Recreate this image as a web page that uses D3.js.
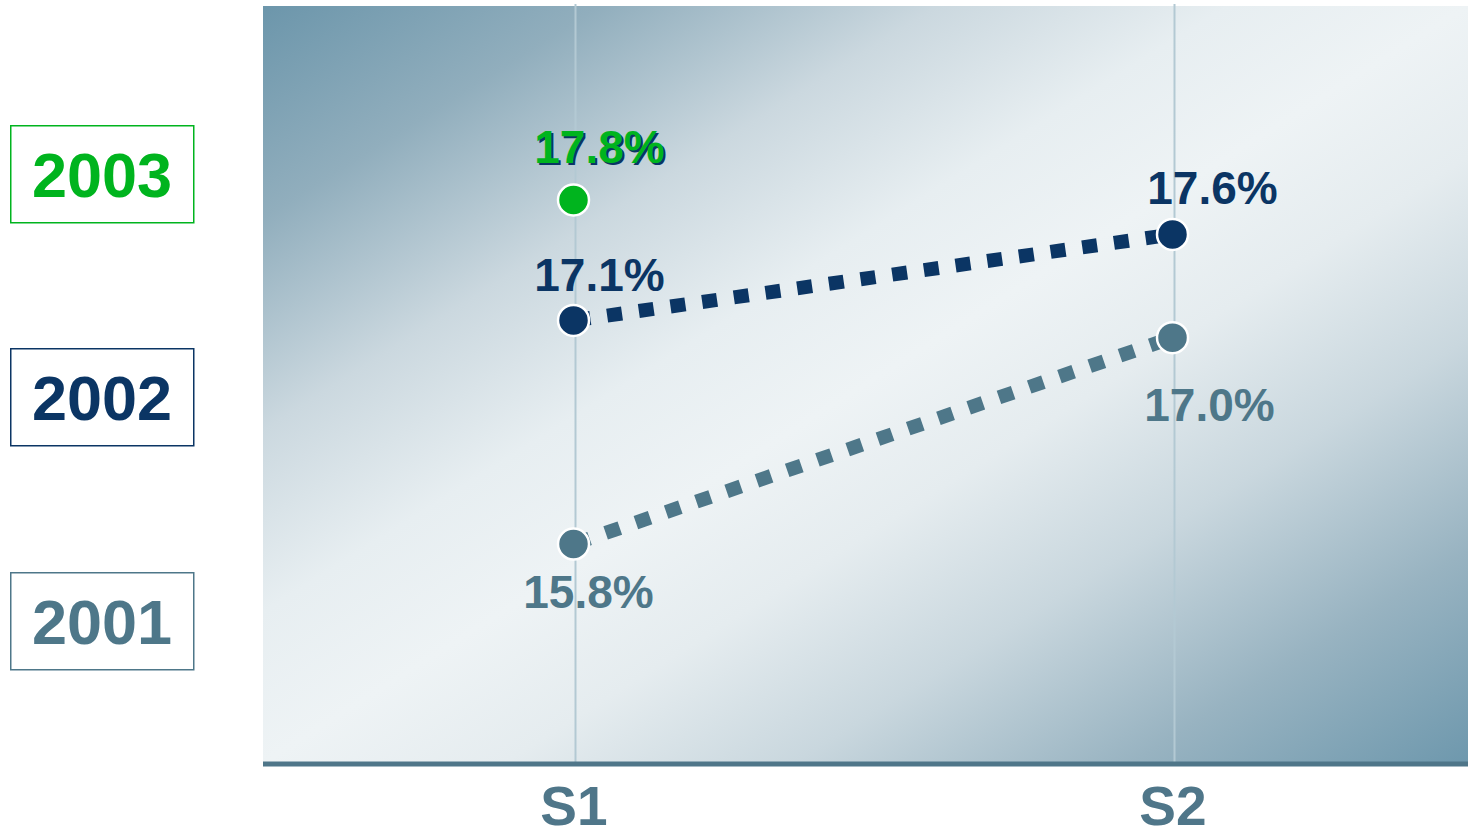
<!DOCTYPE html>
<html>
<head>
<meta charset="utf-8">
<script src="https://cdn.jsdelivr.net/npm/d3@7"></script>
<style>
  body { margin: 0; background: #fff; }
  svg { display: block; font-family: "Liberation Sans", Arial, sans-serif; font-weight: bold; }
</style>
</head>
<body>
<svg id="chart" width="1468" height="837"></svg>
<script>
// data
const semesters = ['S1', 'S2'];
const years = ['2001', '2002', '2003'];
const v2001 = [15.8, 17.0];
const v2002 = [17.1, 17.6];
const v2003 = [17.8, null];
const colors = {'2001': '#4e7789', '2002': '#0b3564', '2003': '#00b41e'};

const W = 1468, H = 837;
const plot = {left: 263, right: 1468, top: 6, bottom: 763};

const svg = d3.select('#chart');

const x = d3.scalePoint().domain(semesters).range([274, 1472]).padding(0.5);
const y = d3.scaleLinear().domain([14.527, 18.928]).range([plot.bottom, plot.top]);

// background gradient
const defs = svg.append('defs');
const grad = defs.append('linearGradient').attr('id', 'bg')
    .attr('x1', 0).attr('y1', 0).attr('x2', 1).attr('y2', 1);
[[0, '#6c96ab'], [0.14, '#91aebd'], [0.28, '#cbd8df'], [0.4, '#e7eef1'], [0.5, '#eef3f5'],
 [0.6, '#e5ecef'], [0.72, '#c9d7de'], [0.86, '#98b3c1'], [1, '#6e98ad']].forEach(s => {
    grad.append('stop').attr('offset', s[0]).attr('stop-color', s[1]);
});

svg.append('rect')
    .attr('x', plot.left).attr('y', plot.top)
    .attr('width', plot.right - plot.left).attr('height', plot.bottom - plot.top)
    .attr('fill', 'url(#bg)');

// vertical grid lines
svg.append('g').selectAll('line').data(semesters).join('line')
    .attr('x1', d => x(d) + 2).attr('x2', d => x(d) + 2)
    .attr('y1', 4).attr('y2', plot.bottom)
    .attr('stroke', '#b3c9d3').attr('stroke-width', 2);

// x axis
const xAxis = svg.append('g')
    .attr('transform', `translate(0,${plot.bottom + 1})`)
    .call(d3.axisBottom(x).tickSize(0).tickPadding(22));
xAxis.select('.domain').remove();
xAxis.append('line')
    .attr('x1', plot.left).attr('x2', plot.right)
    .attr('stroke', '#4f7689').attr('stroke-width', 5);
xAxis.selectAll('text')
    .attr('font-size', 55).attr('font-weight', 'bold')
    .attr('font-family', '"Liberation Sans", Arial, sans-serif')
    .attr('fill', '#4f7689')
    .attr('dy', '0.71em');

// series
const series = [
    {year: '2001', values: v2001, labelDx: [15, 37], labelDy: [64, 83]},
    {year: '2002', values: v2002, labelDx: [26, 40], labelDy: [-29, -30]},
    {year: '2003', values: v2003, labelDx: [26, 0], labelDy: [-37, 0]}
];

const line = d3.line()
    .defined(d => d.v != null)
    .x(d => x(d.s))
    .y(d => y(d.v));

series.forEach(sr => {
    const pts = semesters.map((s, i) => ({s: s, v: sr.values[i], i: i}))
        .filter(d => d.v != null);
    const g = svg.append('g');
    if (pts.length > 1) {
        g.append('path').datum(pts)
            .attr('d', line)
            .attr('fill', 'none')
            .attr('stroke', colors[sr.year])
            .attr('stroke-width', 14)
            .attr('stroke-dasharray', '15,17')
            .attr('stroke-dashoffset', -2);
    }
    g.selectAll('circle').data(pts).join('circle')
        .attr('cx', d => x(d.s)).attr('cy', d => y(d.v))
        .attr('r', 15.5)
        .attr('fill', colors[sr.year])
        .attr('stroke', '#fff').attr('stroke-width', 2.5);

    const lab = g.selectAll('g.lab').data(pts).join('g').attr('class', 'lab')
        .attr('transform', d => `translate(${x(d.s) + sr.labelDx[d.i]},${y(d.v) + sr.labelDy[d.i]})`);
    if (sr.year === '2003') {
        lab.append('text')
            .attr('x', 2).attr('y', 2)
            .attr('text-anchor', 'middle')
            .attr('font-size', 46)
            .attr('fill', '#0b3564')
            .text(d => d.v.toFixed(1) + '%');
    }
    lab.append('text')
        .attr('text-anchor', 'middle')
        .attr('font-size', 46)
        .attr('fill', colors[sr.year])
        .text(d => d.v.toFixed(1) + '%');
});

// legend boxes
const legend = [
    {year: '2003', y: 125},
    {year: '2002', y: 348},
    {year: '2001', y: 572}
];
const lg = svg.append('g').selectAll('g').data(legend).join('g')
    .attr('transform', d => `translate(10,${d.y})`);
lg.append('rect')
    .attr('x', 0.75).attr('y', 0.75)
    .attr('width', 183).attr('height', 97)
    .attr('fill', '#fff')
    .attr('stroke', d => colors[d.year]).attr('stroke-width', 1.5);
lg.append('text')
    .attr('x', 92).attr('y', 72)
    .attr('text-anchor', 'middle')
    .attr('font-size', 63)
    .attr('fill', d => colors[d.year])
    .text(d => d.year);
</script>
</body>
</html>
